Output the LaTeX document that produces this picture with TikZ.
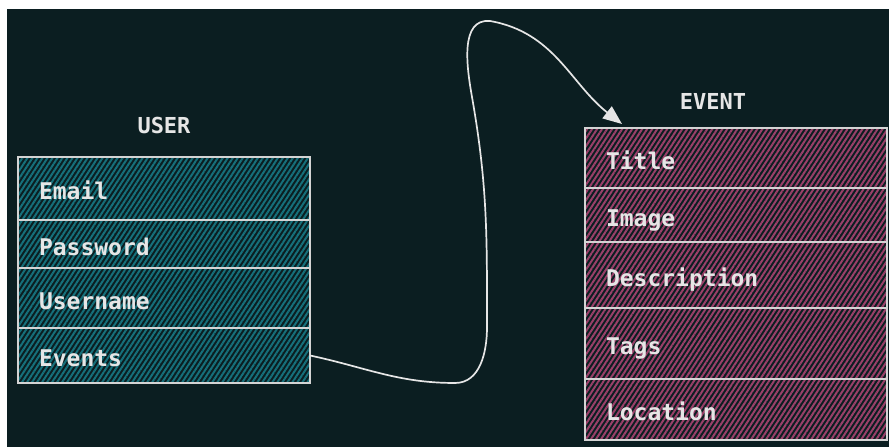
\documentclass[tikz,border=0pt]{standalone}
\usepackage{fontspec}
\setmonofont{DejaVu Sans Mono}
\usetikzlibrary{positioning, arrows.meta, patterns.meta}

\definecolor{canvas}{HTML}{0B1E21}
\definecolor{hatchteal}{HTML}{16707B}
\definecolor{hatchpink}{HTML}{9A4069}
\definecolor{edge}{HTML}{D4D4D4}
\definecolor{ink}{HTML}{E6E6E6}

\tikzset{
  field/.style={rectangle, draw=edge, line width=1.4pt, outer sep=0pt,
    inner xsep=21pt, inner ysep=0pt, align=left, text=ink,
    text height=23pt, text depth=0pt,
    font=\ttfamily\bfseries\fontsize{23}{28}\selectfont, minimum height=#1},
  userfield/.style={field=#1, text width=250pt,
    pattern={Lines[angle=57,distance=4.2pt,line width=2pt]}, pattern color=hatchteal},
  eventfield/.style={field=#1, text width=260pt,
    pattern={Lines[angle=57,distance=4.2pt,line width=2pt]}, pattern color=hatchpink},
  heading/.style={text=ink, inner sep=3pt, font=\ttfamily\bfseries\fontsize{22}{26}\selectfont},
  flow/.style={draw=ink, line width=1.7pt, -{Triangle[length=19pt,width=15pt,fill=ink]}}
}

\begin{document}
\begin{tikzpicture}[x=1pt, y=1pt]
    % canvas with the white margin on top and left
    \fill[white] (0,0) rectangle (889,447);
    \fill[canvas] (7,0) rectangle (889,438);
    \useasboundingbox (0,0) rectangle (889,447);

    % USER table
    \node[userfield=63pt, anchor=north west] (email) at (18,290) {Email};
    \node[userfield=48pt, below=0pt of email] (password) {Password};
    \node[userfield=60pt, below=0pt of password] (username) {Username};
    \node[userfield=55pt, below=0pt of username] (events) {Events};
    \node[heading, above=20pt of email] (usertitle) {USER};

    % EVENT table
    \node[eventfield=60pt, anchor=north west] (title) at (585,319) {Title};
    \node[eventfield=54pt, below=0pt of title] (image) {Image};
    \node[eventfield=66pt, below=0pt of image] (description) {Description};
    \node[eventfield=71pt, below=0pt of description] (tags) {Tags};
    \node[eventfield=61pt, below=0pt of tags] (location) {Location};
    \node[heading, above=15pt of title, xshift=-23pt] (eventtitle) {EVENT};

    % relation
    \coordinate (dip) at (455,64);
    \coordinate (rise) at (487,120);
    \coordinate (climb) at (472,350);
    \coordinate (apex) at (490,426);
    \coordinate[above right=4pt and 37pt of title.north west] (tip);
    \draw[flow] (events.east) to[out=-12,in=180] (dip) to[out=0,in=-90] (rise)
      to[out=90,in=-80] (climb) to[out=100,in=175] (apex) to[out=-10,in=142] (tip);
\end{tikzpicture}
\end{document}
